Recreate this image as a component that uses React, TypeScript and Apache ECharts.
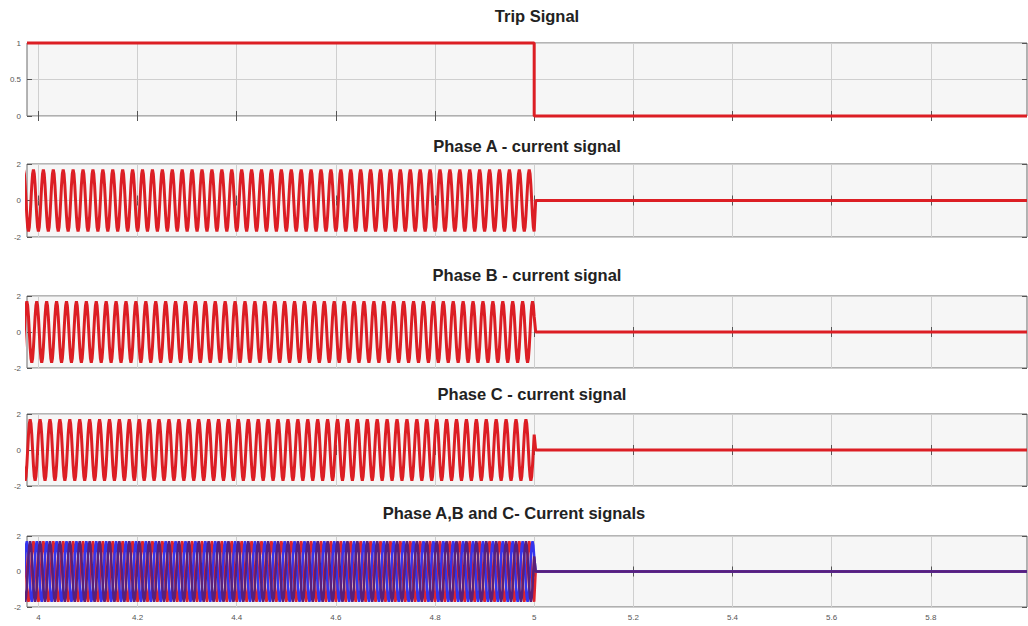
import React, { useEffect, useRef } from "react";
import * as echarts from "echarts";

const titles = [
  "Trip Signal",
  "Phase A - current signal",
  "Phase B - current signal",
  "Phase C - current signal",
  "Phase A,B and C- Current signals",
];
const xMin = 3.977;
const xMax = 5.994;
const xTicks = [4, 4.2, 4.4, 4.6, 4.8, 5, 5.2, 5.4, 5.6, 5.8];

const tripTimes = [3.977, 5.0, 5.0, 5.994];
const tripValues = [1, 1, 0, 0];

// one 20 ms cycle of each phase current, 12 samples per cycle
const cycleA = [-1.7, -1.47, -0.85, 0, 0.85, 1.47, 1.7, 1.47, 0.85, 0, -0.85, -1.47];
const cycleB = [0.85, 0, -0.85, -1.47, -1.7, -1.47, -0.85, 0, 0.85, 1.47, 1.7, 1.47];
const cycleC = [0.85, 1.47, 1.7, 1.47, 0.85, 0, -0.85, -1.47, -1.7, -1.47, -0.85, 0];
const cycleStart = 3.96;
const period = 0.02;
const tripTime = 5.0;
const clearTime = 5.003;

function buildWave(cycle: number[]): number[][] {
  const dt = period / cycle.length;
  const n = Math.round((tripTime - cycleStart) / dt);
  const out: number[][] = [];
  for (let k = 0; k <= n; k++) {
    out.push([cycleStart + k * dt, cycle[k % cycle.length]]);
  }
  out.push([clearTime, 0]);
  out.push([xMax, 0]);
  return out;
}

const gridTops = [43, 164, 296, 414, 536];
const gridHeights = [73, 73, 72, 72, 71];
const titleCenters = [
  [537, 16],
  [527, 146],
  [527, 275],
  [532, 394],
  [514, 513],
];

export default function App() {
  const ref = useRef<HTMLDivElement>(null);
  useEffect(() => {
    if (!ref.current) return;
    const chart = echarts.init(ref.current, undefined, { renderer: "svg" });
    const waveA = buildWave(cycleA);
    const waveB = buildWave(cycleB);
    const waveC = buildWave(cycleC);
    const trip = tripTimes.map((t, i) => [t, tripValues[i]]);

    const grids: any[] = [];
    const xAxes: any[] = [];
    const yAxes: any[] = [];
    const tickStyle = { show: true, inside: true, length: 5, lineStyle: { color: "#555", width: 1 } };
    for (let i = 0; i < 5; i++) {
      grids.push({
        left: 27,
        right: 1,
        top: gridTops[i],
        height: gridHeights[i],
        show: true,
        backgroundColor: "#f6f6f6",
        borderColor: "#6a6a6a",
        borderWidth: 1,
      });
      xAxes.push({
        type: "value",
        gridIndex: i,
        position: "bottom",
        min: xMin,
        max: xMax,
        axisLine: { show: false },
        axisTick: { ...tickStyle, customValues: xTicks },
        axisLabel: {
          show: i === 4,
          customValues: xTicks,
          fontSize: 8,
          color: "#555",
          margin: 6,
          fontFamily: "Liberation Sans",
        },
        splitLine: { show: true, lineStyle: { color: "#cfcfcf", width: 1 } },
      });
      xAxes.push({
        type: "value",
        gridIndex: i,
        position: "top",
        min: xMin,
        max: xMax,
        axisLine: { show: false },
        axisTick: { ...tickStyle, customValues: xTicks },
        axisLabel: { show: false },
        splitLine: { show: false },
      });
      const yCfg = i === 0 ? { min: 0, max: 1, interval: 0.5 } : { min: -2, max: 2, interval: 2 };
      yAxes.push({
        type: "value",
        gridIndex: i,
        position: "left",
        ...yCfg,
        axisLine: { show: false },
        axisTick: tickStyle,
        axisLabel: { fontSize: 8, color: "#555", margin: 6, fontFamily: "Liberation Sans" },
        splitLine: { show: true, lineStyle: { color: "#cfcfcf", width: 1 } },
      });
      yAxes.push({
        type: "value",
        gridIndex: i,
        position: "right",
        ...yCfg,
        axisLine: { show: false },
        axisTick: tickStyle,
        axisLabel: { show: false },
        splitLine: { show: false },
      });
    }

    const mk = (name: string, idx: number, data: number[][], color: string, width: number, clip = true) => ({
      name,
      type: "line",
      xAxisIndex: idx * 2,
      yAxisIndex: idx * 2,
      data,
      showSymbol: false,
      symbol: "none",
      clip,
      lineStyle: { color, width },
      itemStyle: { color },
      z: 3,
    });

    const red = "#dc1e24";
    chart.setOption({
      animation: false,
      backgroundColor: "#ffffff",
      title: titles.map((t, i) => ({
        text: t,
        left: titleCenters[i][0],
        top: titleCenters[i][1] - 9,
        textAlign: "center",
        padding: 0,
        textStyle: { fontSize: 16.5, fontWeight: "bold", color: "#222", fontFamily: "Liberation Sans" },
      })),
      grid: grids,
      xAxis: xAxes,
      yAxis: yAxes,
      series: [
        mk("Trip", 0, trip, red, 3, false),
        mk("Phase A", 1, waveA, red, 3),
        mk("Phase B", 2, waveB, red, 3),
        mk("Phase C", 3, waveC, red, 3),
        mk("A", 4, waveA, "#e0242c", 2.5),
        mk("B", 4, waveB, "#3434ee", 2.5),
        mk("C", 4, waveC, "#58207a", 2.5),
      ],
    });
    return () => chart.dispose();
  }, []);
  return (
    <div
      ref={ref}
      style={{ position: "absolute", left: 0, top: 0, width: 1028, height: 626 }}
    />
  );
}
